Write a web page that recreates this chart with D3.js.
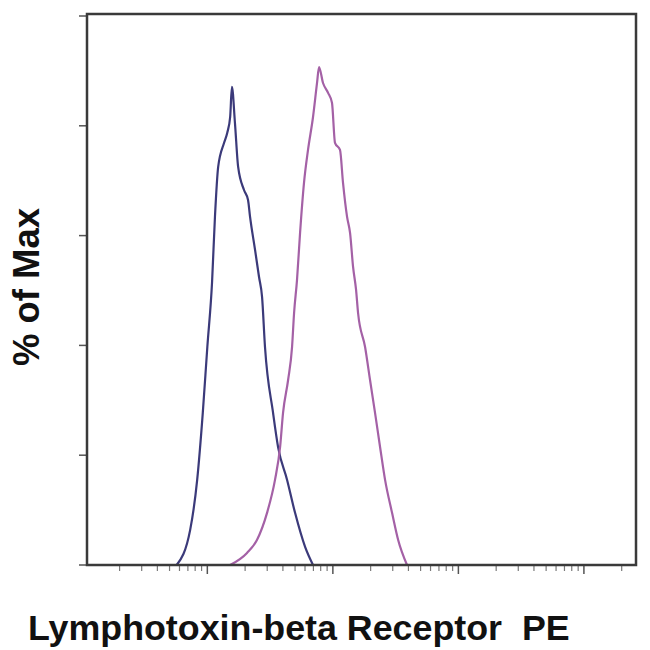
<!DOCTYPE html>
<html>
<head>
<meta charset="utf-8">
<script src="https://cdn.jsdelivr.net/npm/d3@7"></script>
<style>
  html, body { margin: 0; padding: 0; background: #fff; }
</style>
</head>
<body>
<div id="chart"></div>
<script>
// global const
const width = 650, height = 650;
const frame = { left: 87, right: 636, top: 14, bottom: 565 };
const colors = { frame: "#3a3a3a", tick: "#7a7a7a", isotype: "#3b3a7a", stained: "#a461a6", text: "#111" };

// data (channel value, % of max)
const isotypeX = [57, 73, 83, 92, 100, 109, 115, 122, 136, 144, 152, 157, 166, 176, 196, 211, 219, 240, 258, 273, 288, 334, 366, 432, 500, 601, 695];
const isotypeY = [0, 6.4, 15.5, 27.7, 39.7, 51.4, 63.4, 72.5, 76.9, 78.7, 81.6, 87.1, 80.5, 72.5, 68.3, 66.5, 63.4, 57.4, 52.5, 48.8, 39.7, 27.7, 21.5, 15.5, 9.5, 3.3, 0];

const stainedX = [152, 207, 249, 299, 346, 380, 401, 440, 473, 491, 518, 548, 589, 634, 695, 748, 776, 835, 916, 984, 1040, 1140, 1205, 1298, 1371, 1449, 1531, 1588, 1806, 1978, 2168, 2377, 2606, 2962, 3309, 3899];
const stainedY = [0, 2.2, 4.6, 9.5, 15.5, 21.5, 27.7, 33.7, 39.7, 45.9, 51.9, 60.5, 69.6, 75.6, 81.6, 87.8, 90.7, 87.8, 86.0, 84.2, 76.9, 75.6, 69.6, 63.4, 60.5, 54.3, 50.1, 45.9, 39.7, 33.7, 27.7, 21.5, 15.5, 9.5, 4.6, 0];

const yTicks = [0, 20, 40, 60, 80, 100];
const decades = [100, 1000, 10000, 100000];
const multipliers = [2, 3, 4, 5, 6, 7, 8, 9];

const xLabel = "Lymphotoxin-beta Receptor  PE";
const yLabel = "% of Max";

var svg = d3.select("#chart")
    .append("svg")
    .attr("width", width)
    .attr("height", height)
    .style("background-color", "#fff")

var xScale = d3.scaleLog()
    .domain([11, 260000])
    .range([frame.left, frame.right])

var yScale = d3.scaleLinear()
    .domain([0, 100])
    .range([frame.bottom, frame.top + 2])

// minor ticks on the log axis
var minorTicks = []
;[10, 100, 1000, 10000, 100000].forEach(d => {
    multipliers.forEach(m => {
        var v = d * m
        if (v > xScale.domain()[0] && v < xScale.domain()[1]) minorTicks.push(v)
    })
})

svg.selectAll(".minor")
    .data(minorTicks)
    .join("line")
    .attr("class", "minor")
    .attr("x1", d => xScale(d))
    .attr("x2", d => xScale(d))
    .attr("y1", frame.bottom)
    .attr("y2", frame.bottom + 6)
    .attr("stroke", colors.tick)
    .attr("stroke-width", 1.2)

svg.selectAll(".major")
    .data(decades)
    .join("line")
    .attr("class", "major")
    .attr("x1", d => xScale(d))
    .attr("x2", d => xScale(d))
    .attr("y1", frame.bottom)
    .attr("y2", frame.bottom + 9)
    .attr("stroke", "#555")
    .attr("stroke-width", 1.5)

// y ticks
svg.selectAll(".ytick")
    .data(yTicks)
    .join("line")
    .attr("class", "ytick")
    .attr("x1", frame.left - 8)
    .attr("x2", frame.left)
    .attr("y1", d => yScale(d))
    .attr("y2", d => yScale(d))
    .attr("stroke", "#555")
    .attr("stroke-width", 1.5)

// histograms
const line = d3.line()
    .x(d => xScale(d[0]))
    .y(d => yScale(d[1]))
    .curve(d3.curveMonotoneX)

svg.append("path")
    .datum(d3.zip(isotypeX, isotypeY))
    .attr("d", line)
    .attr("fill", "none")
    .attr("stroke", colors.isotype)
    .attr("stroke-width", 2.2)
    .attr("stroke-linejoin", "round")

svg.append("path")
    .datum(d3.zip(stainedX, stainedY))
    .attr("d", line)
    .attr("fill", "none")
    .attr("stroke", colors.stained)
    .attr("stroke-width", 2.2)
    .attr("stroke-linejoin", "round")

// frame
svg.append("rect")
    .attr("x", frame.left)
    .attr("y", frame.top)
    .attr("width", frame.right - frame.left)
    .attr("height", frame.bottom - frame.top)
    .attr("fill", "none")
    .attr("stroke", colors.frame)
    .attr("stroke-width", 2.5)

// labels
svg.append("text")
    .attr("x", 28)
    .attr("y", 640)
    .attr("font-family", "Liberation Sans, Arial, sans-serif")
    .attr("font-weight", "bold")
    .attr("font-size", 35.8)
    .attr("fill", colors.text)
    .attr("xml:space", "preserve")
    .style("white-space", "pre")
    .text(xLabel)

svg.append("text")
    .attr("transform", `translate(39, 287) rotate(-90)`)
    .attr("text-anchor", "middle")
    .attr("font-family", "Liberation Sans, Arial, sans-serif")
    .attr("font-weight", "bold")
    .attr("font-size", 36.5)
    .attr("fill", colors.text)
    .text(yLabel)
</script>
</body>
</html>
